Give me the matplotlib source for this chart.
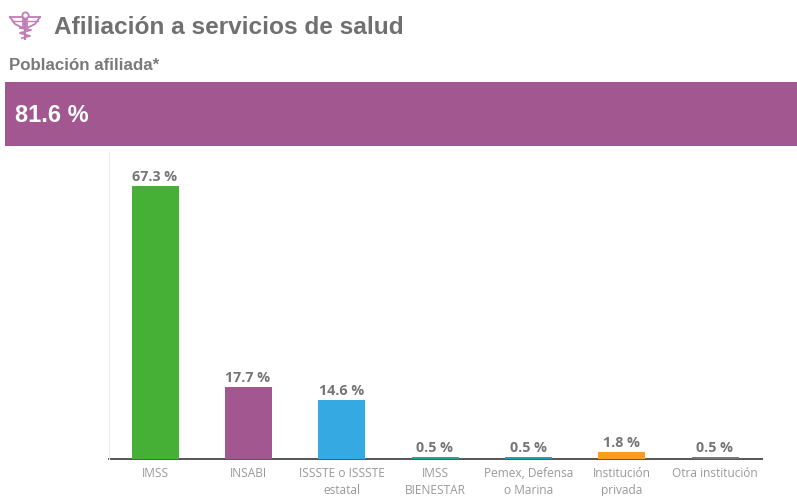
import matplotlib
matplotlib.use("Agg")
import matplotlib.pyplot as plt
from matplotlib.patches import Rectangle

categories = ["IMSS", "INSABI", "ISSSTE o ISSSTE\nestatal", "IMSS\nBIENESTAR",
              "Pemex, Defensa\no Marina", "Institución\nprivada", "Otra institución"]
values = [67.3, 17.7, 14.6, 0.5, 0.5, 1.8, 0.5]
labels = ["67.3 %", "17.7 %", "14.6 %", "0.5 %", "0.5 %", "1.8 %", "0.5 %"]
colors = ["#46AF36", "#A25791", "#35A9E1", "#1FA98F", "#1FA3B0", "#F99D1C", "#777777"]
title = "Afiliación a servicios de salud"
subtitle = "Población afiliada*"
headline = "81.6 %"

W, H = 797, 496
fig = plt.figure(figsize=(W/100, H/100), dpi=100, facecolor="white")
plt.rcParams["font.family"] = ["Liberation Sans"]

bg = fig.add_axes([0, 0, 1, 1])
bg.set_xlim(0, W); bg.set_ylim(H, 0); bg.axis("off")
bg.add_patch(Rectangle((5, 82), 792, 64, color="#A25791", lw=0))
bg.text(54, 28, title, fontsize=17.55, fontweight="bold", color="#707070", va="center", family="Liberation Sans")
bg.text(9, 65, subtitle, fontsize=12.2, fontweight="bold", color="#7a7a7a", va="center", family="Liberation Sans")
bg.text(15, 115, headline, fontsize=17, fontweight="bold", color="white", va="center", family="Liberation Sans")

# caduceus icon
ic = "#C07DB6"
bg.plot([25, 25], [17, 39], color=ic, lw=1.5)
bg.plot([10, 23, 23, 15, 10], [17, 17, 28, 24, 17], color=ic, lw=1.3)
bg.plot([40, 27, 27, 35, 40], [17, 17, 28, 24, 17], color=ic, lw=1.3)
bg.plot([12, 22], [21, 21], color=ic, lw=1.0)
bg.plot([38, 28], [21, 21], color=ic, lw=1.0)
bg.plot([20, 31, 20, 30, 22], [28, 30, 33, 36, 38], color=ic, lw=1.3)
bg.plot([25], [14.5], marker="o", ms=4.5, mfc="white", mec=ic, mew=1.3)

ax = fig.add_axes([108.5/W, (H-459)/H, (762-108.5)/W, (459-152)/H])
x = list(range(len(values)))
ax.bar(x, values, width=0.503, color=colors, zorder=3)
ax.set_xlim(-0.5, 6.5)
ax.set_ylim(0, 75.7)
for xi, v, lab in zip(x, values, labels):
    ax.annotate(lab, (xi, v), xytext=(-0.4, 1.4), textcoords="offset points", ha="center", va="bottom",
                fontsize=10.3, fontweight="bold", color="#757575", family="Open Sans")
ax.set_yticks([])
ax.set_xticks(x)
ax.set_xticklabels(categories, fontsize=8.6, color="#999999", family="Open Sans", linespacing=1.38)
ax.tick_params(axis="x", length=0, pad=6)
for s in ["top", "right"]:
    ax.spines[s].set_visible(False)
ax.spines["left"].set_color("#eeeeee")
ax.spines["left"].set_linewidth(0.8)
ax.spines["bottom"].set_color("#555555")
ax.spines["bottom"].set_linewidth(1.4)
ax.spines["bottom"].set_zorder(2)
ax.patch.set_alpha(0)
fig.savefig("out.png", dpi=100)
